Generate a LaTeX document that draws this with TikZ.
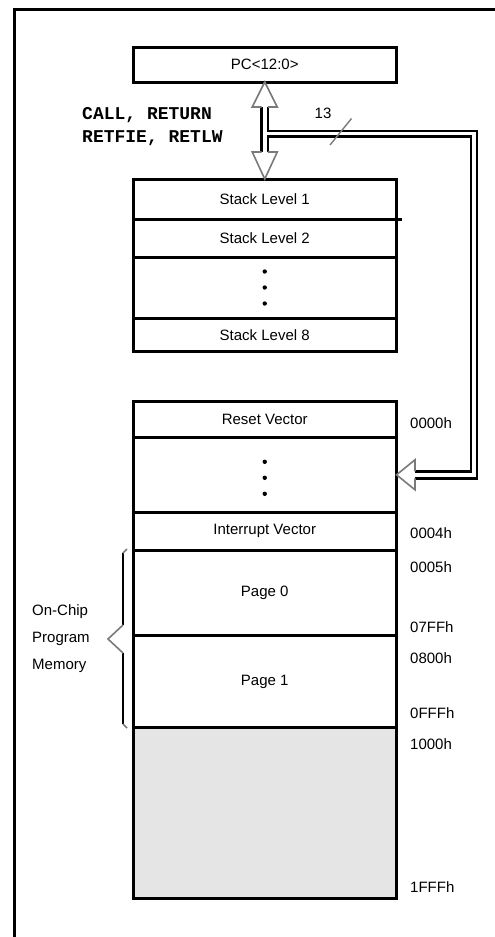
\documentclass[tikz,border=0pt]{standalone}
\usepackage{fontspec}
\setmainfont{Liberation Sans}
\setmonofont{Liberation Mono}
\usetikzlibrary{calc}
\definecolor{memgray}{HTML}{E5E5E5}
\definecolor{headgray}{HTML}{7A7A7A}
\begin{document}
\begin{tikzpicture}[x=1pt,y=-1pt,
  box/.style={draw=black,line width=3pt,minimum width=263.5pt,inner sep=0pt,outer sep=0pt,font=\fontsize{15}{18}\selectfont},
  busline/.style={line width=2.8pt,black},
  headline/.style={line width=1.6pt,headgray},
  addr/.style={anchor=west,inner sep=0pt,font=\fontsize{15}{18}\selectfont},
]
\useasboundingbox (0,0) rectangle (495,937);
% frame
\draw[line width=3pt] (495,9) -- (14,9) -- (14,937);
% program counter
\node[box,minimum height=34.5pt] (pc) at (264.75,64.75) {PC<12:0>};
% stack
\node[box,minimum height=40pt] (s1) at (264.75,199) {Stack Level 1};
\node[box,minimum height=38pt] (s2) at (264.75,238) {Stack Level 2};
\node[box,minimum height=61pt] (sd) at (264.75,287.5) {};
\node[box,minimum height=33.5pt] (s8) at (264.75,334.75) {Stack Level 8};
\draw[line width=3pt] (s1.south east) -- ++(5,0);
\foreach \d in {-16,0,16} {\fill ($(sd.center)+(0,\d)$) circle (2.2pt);}
% memory
\node[box,minimum height=36.3pt] (rv) at (264.75,419.15) {Reset Vector};
\node[box,minimum height=75pt] (md) at (264.75,474.8) {};
\node[box,minimum height=37.7pt] (iv) at (264.75,531.15) {Interrupt Vector};
\node[box,minimum height=85.7pt] (p0) at (264.75,592.85) {Page 0};
\node[box,minimum height=92pt] (p1) at (264.75,681.7) {Page 1};
\node[box,minimum height=170.6pt,fill=memgray] (ext) at (264.75,813) {};
\foreach \d in {-13,3,19} {\fill ($(md.center)+(0,\d)$) circle (2.2pt);}
% bus coordinates
\coordinate (ta) at (pc.south);
\coordinate (tb) at (s1.north);
\coordinate (tc) at (md.east);
% shafts and bus
\draw[busline] ($(ta)+(-3.2,25)$) -- ($(tb)+(-3.2,-27)$);
\draw[busline] ($(ta)+(3.2,25)$) -- ($(ta)+(3.2,49)$) -| ($(tc)+(80.5,3.5)$) -- ($(tc)+(18.5,3.5)$);
\draw[busline] ($(tb)+(3.2,-27)$) -- ($(ta)+(3.2,54.5)$) -| ($(tc)+(74.5,-3.5)$) -- ($(tc)+(18.5,-3.5)$);
% hollow arrowheads
\draw[headline] ($(ta)+(-3.2,25)$) -- ($(ta)+(-12.5,25)$) -- (ta) -- ($(ta)+(12.5,25)$) -- ($(ta)+(3.2,25)$);
\draw[headline] ($(tb)+(-3.2,-27)$) -- ($(tb)+(-12.5,-27)$) -- (tb) -- ($(tb)+(12.5,-27)$) -- ($(tb)+(3.2,-27)$);
\draw[headline] ($(tc)+(18.5,-3.5)$) -- ($(tc)+(18.5,-15)$) -- (tc) -- ($(tc)+(18.5,15)$) -- ($(tc)+(18.5,3.5)$);
% bus width mark
\draw[headline,line width=1.4pt] (330,145) -- (351.5,118.5);
\node[inner sep=0pt,font=\fontsize{15}{18}\selectfont] (n13) at (323,113) {13};
% instruction label
\node[anchor=west,align=left,inner sep=0pt,font=\ttfamily\bfseries\fontsize{18}{23}\selectfont] (ops) at (82,126.5) {CALL, RETURN\\RETFIE, RETLW};
% brace and label
\draw[line width=2.5pt] (123,553) -- (123,625);
\draw[line width=2.5pt] (123,653) -- (123,724);
\draw[headline] (123,625) -- (108,639) -- (123,653);
\draw[headline] (123,553) -- (127,549);
\draw[headline] (123,724) -- (127,728);
\node[anchor=west,align=left,inner sep=0pt,font=\fontsize{15}{27}\selectfont] (ocpm) at (32,639) {On-Chip\\Program\\Memory};
% addresses
\node[addr] (a0) at (410,423) {0000h};
\node[addr] (a4) at (410,533) {0004h};
\node[addr] (a5) at (410,567) {0005h};
\node[addr] (a7) at (410,627) {07FFh};
\node[addr] (a8) at (410,658) {0800h};
\node[addr] (af) at (410,713) {0FFFh};
\node[addr] (a10) at (410,744) {1000h};
\node[addr] (a1f) at (410,887) {1FFFh};
\end{tikzpicture}
\end{document}
